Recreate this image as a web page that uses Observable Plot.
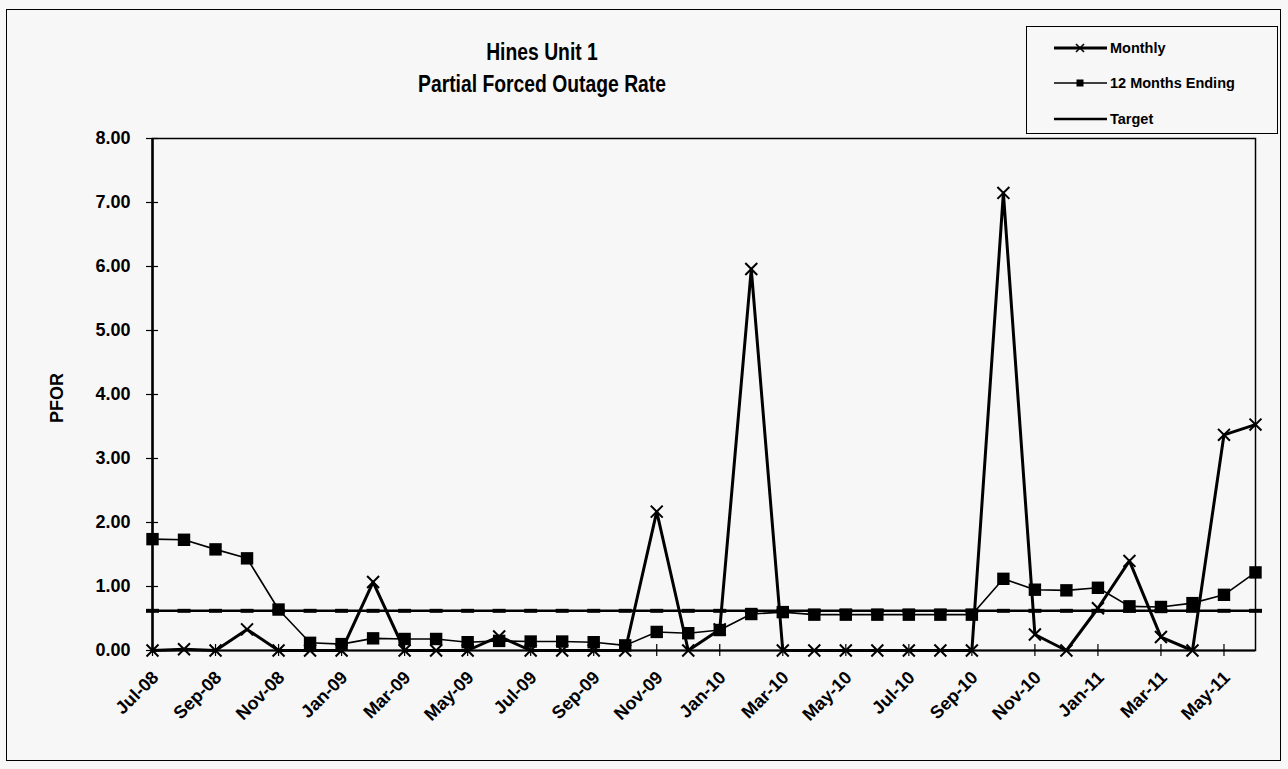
<!DOCTYPE html>
<html>
<head>
<meta charset="utf-8">
<script src="https://cdn.jsdelivr.net/npm/d3@7"></script>
<script src="https://cdn.jsdelivr.net/npm/@observablehq/plot@0.6"></script>
<style>
  html, body { margin: 0; padding: 0; background: #f7f7f7; }
  #wrap { position: relative; width: 1288px; height: 769px; overflow: hidden; font-family: "Liberation Sans", Arial, sans-serif; color: #000; }
  #chart { position: absolute; left: 0; top: 0; }
  .outer { position: absolute; left: 6px; top: 9px; width: 1275px; height: 752px; border: 1px solid #000; box-sizing: border-box; }
  .title { position: absolute; left: 342px; width: 400px; text-align: center; font-weight: bold; font-size: 23px; line-height: 1; transform: scaleX(0.84); white-space: nowrap; }
  .ylabel { position: absolute; left: 57px; top: 398px; font-weight: bold; font-size: 18px; transform: translate(-50%, -50%) rotate(-90deg); white-space: nowrap; }
  .legend { position: absolute; left: 1026px; top: 26px; width: 252px; height: 108px; border: 1px solid #000; box-sizing: border-box; }
  .legend .row { position: absolute; left: 0; height: 20px; }
  .legend .row svg { position: absolute; left: 26px; top: 0; }
  .legend .row span { position: absolute; left: 83px; font-weight: bold; font-size: 14.5px; white-space: nowrap; line-height: 20px; top: 0; }
</style>
</head>
<body>
<div id="wrap">
  <div class="outer"></div>
  <div id="chart"></div>
  <div class="title" style="top:41px">Hines Unit 1</div>
  <div class="title" style="top:73px">Partial Forced Outage Rate</div>
  <div class="ylabel">PFOR</div>
  <div class="legend" id="legend"></div>
</div>
<script>
// ---- data ----
const months = ["Jul-08","Aug-08","Sep-08","Oct-08","Nov-08","Dec-08",
  "Jan-09","Feb-09","Mar-09","Apr-09","May-09","Jun-09",
  "Jul-09","Aug-09","Sep-09","Oct-09","Nov-09","Dec-09",
  "Jan-10","Feb-10","Mar-10","Apr-10","May-10","Jun-10",
  "Jul-10","Aug-10","Sep-10","Oct-10","Nov-10","Dec-10",
  "Jan-11","Feb-11","Mar-11","Apr-11","May-11","Jun-11"];
const monthly = [0.00, 0.02, 0.00, 0.33, 0.00, 0.00,
  0.00, 1.07, 0.00, 0.00, 0.00, 0.22,
  0.00, 0.00, 0.00, 0.00, 2.17, 0.00,
  0.33, 5.96, 0.00, 0.00, 0.00, 0.00,
  0.00, 0.00, 0.00, 7.15, 0.25, 0.00,
  0.66, 1.40, 0.21, 0.00, 3.37, 3.53];
const rolling12 = [1.74, 1.73, 1.58, 1.44, 0.64, 0.12,
  0.10, 0.19, 0.18, 0.18, 0.13, 0.15,
  0.14, 0.14, 0.13, 0.08, 0.29, 0.27,
  0.32, 0.57, 0.60, 0.56, 0.56, 0.56,
  0.56, 0.56, 0.56, 1.12, 0.95, 0.94,
  0.98, 0.69, 0.68, 0.74, 0.87, 1.22];
const target = [0.62, 0.62, 0.62, 0.62, 0.62, 0.62,
  0.62, 0.62, 0.62, 0.62, 0.62, 0.62,
  0.62, 0.62, 0.62, 0.62, 0.62, 0.62,
  0.62, 0.62, 0.62, 0.62, 0.62, 0.62,
  0.62, 0.62, 0.62, 0.62, 0.62, 0.62,
  0.62, 0.62, 0.62, 0.62, 0.62, 0.62];
const yTicks = [0, 1, 2, 3, 4, 5, 6, 7, 8];
const xTickLabels = ["Jul-08","Sep-08","Nov-08","Jan-09","Mar-09","May-09",
  "Jul-09","Sep-09","Nov-09","Jan-10","Mar-10","May-10",
  "Jul-10","Sep-10","Nov-10","Jan-11","Mar-11","May-11"];
const seriesNames = ["Monthly", "12 Months Ending", "Target"];

// category position of each month and of each labelled tick (Excel-style category axis)
const rows = months.map((m, i) => ({i, month: m, monthly: monthly[i], r12: rolling12[i], target: target[i]}));
const xTickIndex = xTickLabels.map(l => months.indexOf(l));

const dashSymbol = {
  draw(context, size) {
    const w = 6.5, h = 2;
    context.moveTo(-w, -h); context.lineTo(w, -h); context.lineTo(w, h); context.lineTo(-w, h); context.closePath();
  }
};

const chart = Plot.plot({
  width: 1288,
  height: 769,
  marginTop: 138,
  marginLeft: 152,
  marginRight: 33,
  marginBottom: 119,
  style: {background: "transparent", fontFamily: "'Liberation Sans', Arial, sans-serif", color: "#000", overflow: "visible"},
  x: {type: "linear", domain: [0, months.length - 1]},
  y: {domain: [0, 8]},
  marks: [
    Plot.frame({stroke: "#000", strokeWidth: 1.5}),
    Plot.ruleX([0], {stroke: "#000", strokeWidth: 2.5}),
    Plot.ruleY([0], {stroke: "#000", strokeWidth: 2}),
    Plot.axisY(yTicks, {tickSize: 12, dx: 6, text: null, stroke: "#000", strokeWidth: 1.2, label: null}),
    Plot.axisY(yTicks, {tickSize: 0, tickPadding: 22, tickFormat: d => d.toFixed(2), fontSize: 18, fontWeight: "bold", label: null}),
    Plot.axisX(xTickIndex, {tickSize: 12, dy: -6, text: null, stroke: "#000", strokeWidth: 1.2, label: null}),
    Plot.axisX(xTickIndex, {tickSize: 0, tickPadding: 24, tickRotate: -45, dx: 3, tickFormat: i => months[i], fontSize: 18, fontWeight: "bold", label: null}),
    Plot.line(rows, {x: "i", y: "target", stroke: "#000", strokeWidth: 2.5}),
    Plot.dot(rows, {x: "i", y: "target", symbol: dashSymbol, fill: "#000", stroke: "none", r: 5}),
    Plot.line(rows, {x: "i", y: "r12", stroke: "#000", strokeWidth: 1.6}),
    Plot.dot(rows, {x: "i", y: "r12", symbol: "square", fill: "#000", stroke: "none", r: 7}),
    Plot.line(rows, {x: "i", y: "monthly", stroke: "#000", strokeWidth: 3}),
    Plot.dot(rows, {x: "i", y: "monthly", symbol: "times", stroke: "#000", strokeWidth: 2, r: 5.5})
  ]
});
document.getElementById("chart").appendChild(chart);

// ---- legend ----
const legend = document.getElementById("legend");
const legendRows = [
  {name: seriesNames[0], top: 11, marker: "times", width: 3},
  {name: seriesNames[1], top: 46, marker: "square", width: 1.6},
  {name: seriesNames[2], top: 82, marker: null, width: 2.5}
];
legendRows.forEach(r => {
  const row = document.createElement("div");
  row.className = "row";
  row.style.top = r.top + "px";
  let marker = "";
  if (r.marker === "times") marker = '<path d="M23,6 L31,14 M31,6 L23,14" stroke="#000" stroke-width="1.6"/>';
  if (r.marker === "square") marker = '<rect x="23.5" y="6.5" width="7" height="7" fill="#000"/>';
  row.innerHTML = '<svg width="56" height="20"><line x1="1" y1="10" x2="54" y2="10" stroke="#000" stroke-width="' + r.width + '"/>' + marker + '</svg><span>' + r.name + '</span>';
  legend.appendChild(row);
});
</script>
</body>
</html>
